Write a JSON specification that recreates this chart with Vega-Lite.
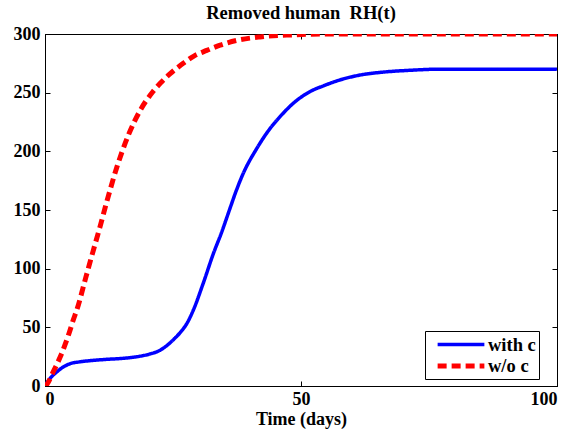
{
  "$schema": "https://vega.github.io/schema/vega-lite/v6.json",
  "width": 512,
  "height": 352,
  "autosize": {"type": "none"},
  "padding": {"left": 45, "top": 34, "right": 15, "bottom": 46},
  "background": "white",
  "config": {
    "view": {"stroke": "black", "strokeWidth": 1},
    "font": "Liberation Serif",
    "axis": {
      "labelFont": "Liberation Serif",
      "labelFontSize": 18,
      "labelFontWeight": "bold",
      "labelColor": "black",
      "titleFont": "Liberation Serif",
      "titleFontSize": 18,
      "titleFontWeight": "bold",
      "titleColor": "black",
      "domainColor": "black",
      "tickColor": "black",
      "tickWidth": 1,
      "grid": false
    }
  },
  "title": {
    "text": "Removed human\u00a0 RH(t)",
    "font": "Liberation Serif",
    "fontSize": 18.5,
    "fontWeight": "bold",
    "color": "black",
    "offset": 3
  },
  "data": {
    "values": [
      {"t": 0, "v": 0, "s": "with c"},
      {"t": 0.3, "v": 2.3, "s": "with c"},
      {"t": 1.2, "v": 7.5, "s": "with c"},
      {"t": 2.3, "v": 12, "s": "with c"},
      {"t": 3.5, "v": 16, "s": "with c"},
      {"t": 4.9, "v": 19, "s": "with c"},
      {"t": 6.8, "v": 20.6, "s": "with c"},
      {"t": 8.8, "v": 21.6, "s": "with c"},
      {"t": 12, "v": 22.7, "s": "with c"},
      {"t": 15.3, "v": 23.6, "s": "with c"},
      {"t": 18, "v": 25, "s": "with c"},
      {"t": 20.5, "v": 27.3, "s": "with c"},
      {"t": 22.5, "v": 30.5, "s": "with c"},
      {"t": 23.8, "v": 34.5, "s": "with c"},
      {"t": 25.2, "v": 40, "s": "with c"},
      {"t": 26.4, "v": 45.5, "s": "with c"},
      {"t": 27.8, "v": 54, "s": "with c"},
      {"t": 29, "v": 65, "s": "with c"},
      {"t": 30.9, "v": 87.5, "s": "with c"},
      {"t": 32.9, "v": 113, "s": "with c"},
      {"t": 34.5, "v": 131, "s": "with c"},
      {"t": 36.1, "v": 151, "s": "with c"},
      {"t": 37.4, "v": 167, "s": "with c"},
      {"t": 38.7, "v": 181, "s": "with c"},
      {"t": 41.3, "v": 202, "s": "with c"},
      {"t": 44, "v": 219.7, "s": "with c"},
      {"t": 46, "v": 230, "s": "with c"},
      {"t": 48.5, "v": 241, "s": "with c"},
      {"t": 51.8, "v": 251, "s": "with c"},
      {"t": 54.5, "v": 256, "s": "with c"},
      {"t": 57, "v": 260, "s": "with c"},
      {"t": 61.5, "v": 265, "s": "with c"},
      {"t": 66, "v": 267.5, "s": "with c"},
      {"t": 71, "v": 269, "s": "with c"},
      {"t": 77, "v": 270, "s": "with c"},
      {"t": 100, "v": 270, "s": "with c"},
      {"t": 0, "v": 0, "s": "w/o c"},
      {"t": 0.3, "v": 1, "s": "w/o c"},
      {"t": 1.6, "v": 12, "s": "w/o c"},
      {"t": 2.9, "v": 24, "s": "w/o c"},
      {"t": 3.9, "v": 35, "s": "w/o c"},
      {"t": 4.7, "v": 45, "s": "w/o c"},
      {"t": 5.5, "v": 56, "s": "w/o c"},
      {"t": 6.3, "v": 66, "s": "w/o c"},
      {"t": 8, "v": 93, "s": "w/o c"},
      {"t": 9.4, "v": 115, "s": "w/o c"},
      {"t": 10.7, "v": 135, "s": "w/o c"},
      {"t": 12, "v": 156, "s": "w/o c"},
      {"t": 14, "v": 186, "s": "w/o c"},
      {"t": 16.3, "v": 214, "s": "w/o c"},
      {"t": 18.6, "v": 235, "s": "w/o c"},
      {"t": 21.1, "v": 251, "s": "w/o c"},
      {"t": 22.5, "v": 258, "s": "w/o c"},
      {"t": 24.4, "v": 266, "s": "w/o c"},
      {"t": 27, "v": 275, "s": "w/o c"},
      {"t": 29, "v": 281, "s": "w/o c"},
      {"t": 31.6, "v": 286, "s": "w/o c"},
      {"t": 34.2, "v": 290.5, "s": "w/o c"},
      {"t": 37.4, "v": 294.5, "s": "w/o c"},
      {"t": 42, "v": 297.5, "s": "w/o c"},
      {"t": 48, "v": 299.2, "s": "w/o c"},
      {"t": 55, "v": 300, "s": "w/o c"},
      {"t": 100, "v": 300, "s": "w/o c"}
    ]
  },
  "layer": [
    {
      "mark": {"type": "line", "clip": true, "strokeCap": "butt", "strokeJoin": "round", "interpolate": "monotone"},
      "encoding": {
        "x": {
          "field": "t", "type": "quantitative",
          "scale": {"domain": [0, 100], "nice": false, "zero": false},
          "axis": {"values": [0, 50, 100], "title": "Time (days)", "tickSize": -5, "labelPadding": 9, "titlePadding": 2}
        },
        "y": {
          "field": "v", "type": "quantitative",
          "scale": {"domain": [0, 300], "nice": false},
          "axis": {"values": [0, 50, 100, 150, 200, 250, 300], "title": null, "tickSize": -5, "labelPadding": 10}
        },
        "color": {
          "field": "s", "type": "nominal",
          "scale": {"domain": ["with c", "w/o c"], "range": ["#0000ff", "#ff0000"]},
          "legend": {
            "title": null,
            "orient": "none",
            "legendX": 380,
            "legendY": 297,
            "direction": "vertical",
            "symbolType": "M-2.75,0H2.75",
            "symbolSize": 289,
            "symbolStrokeWidth": 4,
            "symbolOffset": 22,
            "labelFont": "Liberation Serif",
            "labelFontSize": 18.5,
            "labelFontWeight": "bold",
            "labelColor": "black",
            "strokeColor": "black",
            "fillColor": "white",
            "padding": 3,
            "rowPadding": 1,
            "labelOffset": 16
          }
        },
        "strokeDash": {
          "field": "s", "type": "nominal",
          "scale": {"domain": ["with c", "w/o c"], "range": [[1, 0], [9, 5]]}
        },
        "strokeWidth": {
          "field": "s", "type": "nominal",
          "scale": {"domain": ["with c", "w/o c"], "range": [3.5, 5]},
          "legend": null
        }
      }
    },
    {
      "mark": {"type": "line", "strokeOpacity": 0},
      "encoding": {
        "x": {
          "field": "t", "type": "quantitative",
          "scale": {"domain": [0, 100], "nice": false, "zero": false},
          "axis": {"orient": "top", "values": [0, 50, 100], "title": null, "labels": false, "tickSize": -5}
        },
        "y": {
          "field": "v", "type": "quantitative",
          "scale": {"domain": [0, 300], "nice": false},
          "axis": {"orient": "right", "values": [0, 50, 100, 150, 200, 250, 300], "title": null, "labels": false, "tickSize": -5}
        },
        "detail": {"field": "s", "type": "nominal"}
      }
    }
  ],
  "resolve": {"scale": {"x": "independent", "y": "independent"}}
}
